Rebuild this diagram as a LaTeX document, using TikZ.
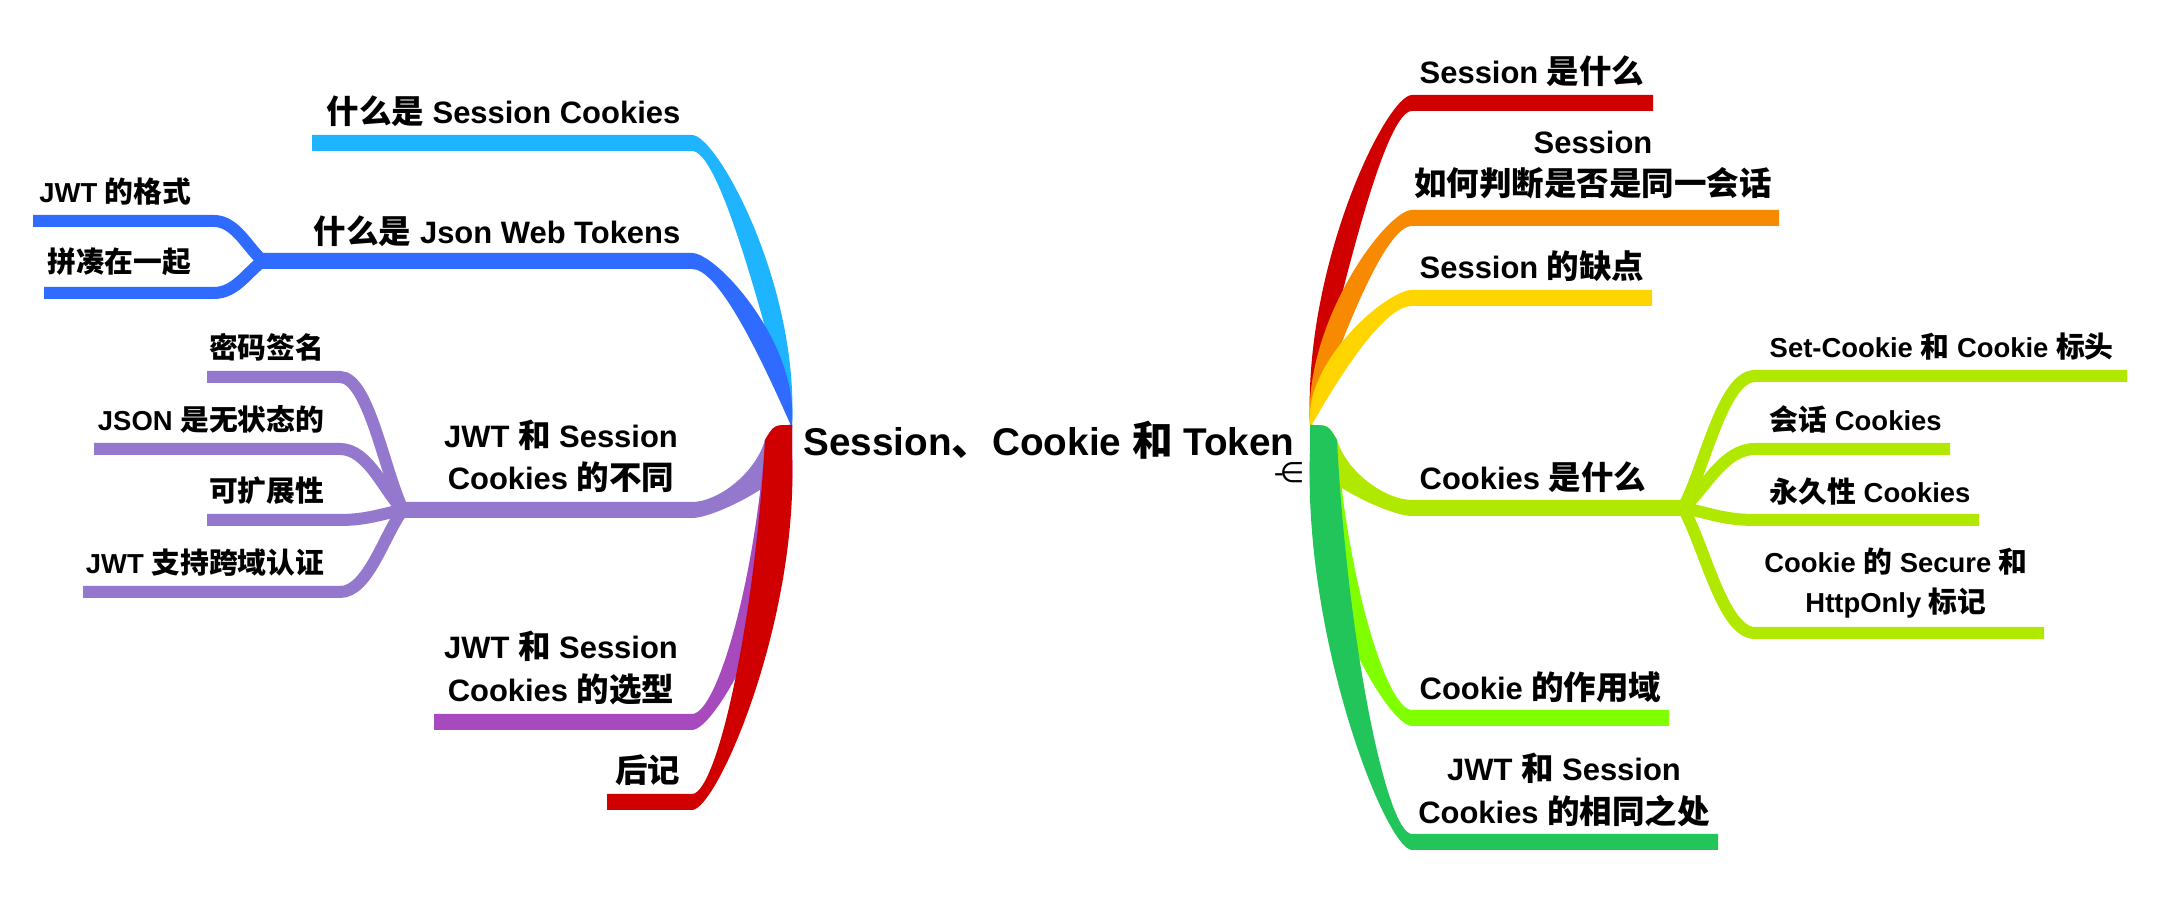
\documentclass[tikz,border=0pt]{standalone}
\usepackage{fontspec}
\setmainfont{Liberation Sans}
\newfontfamily\cjk{Noto Sans CJK SC}[Scale=1.05]
\newfontfamily\dejavu{DejaVu Sans}
\usetikzlibrary{calc}
\newcommand\zh[1]{{\cjk #1}}
\definecolor{cLB}{HTML}{1EB4FF}
\definecolor{cBL}{HTML}{2F6BFF}
\definecolor{cPU}{HTML}{9478CD}
\definecolor{cVI}{HTML}{A64ABE}
\definecolor{cRD}{HTML}{D10000}
\definecolor{cOR}{HTML}{F78A00}
\definecolor{cYE}{HTML}{FFD500}
\definecolor{cLI}{HTML}{B0E800}
\definecolor{cBG}{HTML}{7FFF00}
\definecolor{cGR}{HTML}{22C55A}
\tikzset{
  rootlbl/.style={font=\bfseries\fontsize{11}{13}\selectfont, inner sep=0pt},
  lbl/.style={font=\bfseries\fontsize{8.8}{12}\selectfont, align=center, inner sep=0pt},
  sublbl/.style={font=\bfseries\fontsize{7.8}{11.4}\selectfont, align=center, inner sep=0pt},
  subln/.style={line width=0.12cm},
}
% control points of a root branch: #1 upper start, #2 lower start, #3 bend point
\newcommand\branchctrl[3]{%
  \coordinate (rm) at ($(#1)!0.5!(#2)$);
  \coordinate (ca) at ($(rm)!0.5!(rm|-#3) + 0.15*(#3) - 0.15*(rm|-#3)$);
  \coordinate (cb) at ($(#3)!0.25!(#3-|rm)$);
}
% branch going up from the root: #1 colour, #2 upper start, #3 lower start, #4 bend, #5 end, #6 side sign
\newcommand\upbranch[6]{%
  \branchctrl{#2}{#3}{#4}
  \fill[#1] (#2) .. controls ($(ca)+(#6*22,0)$) and ($(cb)+(0,-8)$) .. ($(#4)+(0,-8)$)
    -- ($(#5)+(0,-8)$) -- ($(#5)+(0,8)$) -- ($(#4)+(0,8)$)
    .. controls ($(cb)+(0,8)$) and ($(ca)-(#6*22,0)$) .. (#3) -- cycle;
}
% branch going down from the root (broad root end)
\newcommand\downbranch[6]{%
  \branchctrl{#2}{#3}{#4}
  \fill[#1] (#2) .. controls ($(#2)+(#6*18,0)$) .. ($(#2)+(#6*27,15)$)
    .. controls ($(ca)+(#6*22,0)$) and ($(cb)+(0,-8)$) .. ($(#4)+(0,-8)$)
    -- ($(#5)+(0,-8)$) -- ($(#5)+(0,8)$) -- ($(#4)+(0,8)$)
    .. controls ($(cb)+(0,8)$) and ($(ca)-(#6*22,0)$) .. (#3) -- cycle;
}
% #1 colour, #2 fork, #3 bend point, #4 line end
\newcommand\subbranch[4]{%
  \draw[subln,#1] (#2) .. controls ($(#2)!0.3!(#3)$) and ($(#3)!0.45!(#3-|#2)$) .. (#3) -- (#4);
}
\begin{document}
\begin{tikzpicture}[x=0.01cm,y=-0.01cm]
\useasboundingbox (0,0) rectangle (2162,916);

% ---------- root anchors ----------
\coordinate (LU) at (792,425); \coordinate (LP) at (792,428); \coordinate (LD) at (792,453);
\coordinate (RU) at (1310,425); \coordinate (RP) at (1310,428); \coordinate (RD) at (1310,453);

% ---------- coordinates ----------
% left
\coordinate (pL1) at (692,143); \coordinate (qL1) at (312,143);
\coordinate (pL2) at (692,261); \coordinate (fL2) at (263,261);
\coordinate (sL2a) at (214,221); \coordinate (eL2a) at (33,221);
\coordinate (sL2b) at (214,293); \coordinate (eL2b) at (44,293);
\coordinate (pL3) at (692,510); \coordinate (fL3) at (403,510);
\coordinate (sL3a) at (340,377); \coordinate (eL3a) at (207,377);
\coordinate (sL3b) at (340,449); \coordinate (eL3b) at (94,449);
\coordinate (sL3c) at (340,520); \coordinate (eL3c) at (207,520);
\coordinate (sL3d) at (340,592); \coordinate (eL3d) at (83,592);
\coordinate (pL4) at (692,722); \coordinate (qL4) at (434,722);
\coordinate (pL5) at (692,802); \coordinate (qL5) at (607,802);
% right
\coordinate (pR1) at (1412,103); \coordinate (qR1) at (1653,103);
\coordinate (pR2) at (1412,218); \coordinate (qR2) at (1779,218);
\coordinate (pR3) at (1412,298); \coordinate (qR3) at (1652,298);
\coordinate (pR4) at (1412,508); \coordinate (fR4) at (1683,508);
\coordinate (sR4a) at (1755,376); \coordinate (eR4a) at (2127,376);
\coordinate (sR4b) at (1755,449); \coordinate (eR4b) at (1950,449);
\coordinate (sR4c) at (1755,520); \coordinate (eR4c) at (1979,520);
\coordinate (sR4d) at (1755,633); \coordinate (eR4d) at (2044,633);
\coordinate (pR5) at (1412,718); \coordinate (qR5) at (1669,718);
\coordinate (pR6) at (1412,842); \coordinate (qR6) at (1718,842);

% ---------- branches ----------
\upbranch{cLB}{LU}{LP}{pL1}{qL1}{1}
\upbranch{cBL}{LU}{LP}{pL2}{fL2}{1}
\subbranch{cBL}{fL2}{sL2a}{eL2a}
\subbranch{cBL}{fL2}{sL2b}{eL2b}
\downbranch{cPU}{LU}{LD}{pL3}{fL3}{-1}
\subbranch{cPU}{fL3}{sL3a}{eL3a}
\subbranch{cPU}{fL3}{sL3b}{eL3b}
\subbranch{cPU}{fL3}{sL3c}{eL3c}
\subbranch{cPU}{fL3}{sL3d}{eL3d}
\downbranch{cVI}{LU}{LD}{pL4}{qL4}{-1}
\downbranch{cRD}{LU}{LD}{pL5}{qL5}{-1}

\upbranch{cRD}{RU}{RP}{pR1}{qR1}{-1}
\upbranch{cOR}{RU}{RP}{pR2}{qR2}{-1}
\upbranch{cYE}{RU}{RP}{pR3}{qR3}{-1}
\downbranch{cBG}{RU}{RD}{pR5}{qR5}{1}
\downbranch{cLI}{RU}{RD}{pR4}{fR4}{1}
\subbranch{cLI}{fR4}{sR4a}{eR4a}
\subbranch{cLI}{fR4}{sR4b}{eR4b}
\subbranch{cLI}{fR4}{sR4c}{eR4c}
\subbranch{cLI}{fR4}{sR4d}{eR4d}
\downbranch{cGR}{RU}{RD}{pR6}{qR6}{1}

% ---------- labels ----------
\node[rootlbl] (root) at (1049,440) {Session\zh{、}Cookie \zh{和} Token};
\node[font=\dejavu\fontsize{8}{9}\selectfont, inner sep=0pt] (rootmark) at (1289,473) {-\kern-1.2pt∈};

\node[lbl, anchor=east] (tL1) at (681,111) {\zh{什么是} Session Cookies};
\node[lbl, anchor=east] (tL2) at (681,231) {\zh{什么是} Json Web Tokens};
\node[sublbl, anchor=east] (tL2a) at (192,192) {JWT \zh{的格式}};
\node[sublbl, anchor=east] (tL2b) at (192,262) {\zh{拼凑在一起}};
\node[lbl] (tL3) at (561,456) {JWT \zh{和} Session\\Cookies \zh{的不同}};
\node[sublbl, anchor=east] (tL3a) at (325,347) {\zh{密码签名}};
\node[sublbl, anchor=east] (tL3b) at (325,419) {JSON \zh{是无状态的}};
\node[sublbl, anchor=east] (tL3c) at (325,491) {\zh{可扩展性}};
\node[sublbl, anchor=east] (tL3d) at (325,563) {JWT \zh{支持跨域认证}};
\node[lbl] (tL4) at (561,668) {JWT \zh{和} Session\\Cookies \zh{的选型}};
\node[lbl, anchor=east] (tL5) at (681,770) {\zh{后记}};

\node[lbl, anchor=west] (tR1) at (1419,71) {Session \zh{是什么}};
\node[lbl] (tR2) at (1593,165) {Session\\\zh{如何判断是否是同一会话}};
\node[lbl, anchor=west] (tR3) at (1419,266) {Session \zh{的缺点}};
\node[lbl, anchor=west] (tR4) at (1419,477) {Cookies \zh{是什么}};
\node[sublbl, anchor=west] (tR4a) at (1769,347) {Set-Cookie \zh{和} Cookie \zh{标头}};
\node[sublbl, anchor=west] (tR4b) at (1769,419) {\zh{会话} Cookies};
\node[sublbl, anchor=west] (tR4c) at (1769,492) {\zh{永久性} Cookies};
\node[sublbl] (tR4d) at (1896,583) {Cookie \zh{的} Secure \zh{和}\\HttpOnly \zh{标记}};
\node[lbl, anchor=west] (tR5) at (1419,687) {Cookie \zh{的作用域}};
\node[lbl] (tR6) at (1564,790) {JWT \zh{和} Session\\Cookies \zh{的相同之处}};
\end{tikzpicture}
\end{document}
